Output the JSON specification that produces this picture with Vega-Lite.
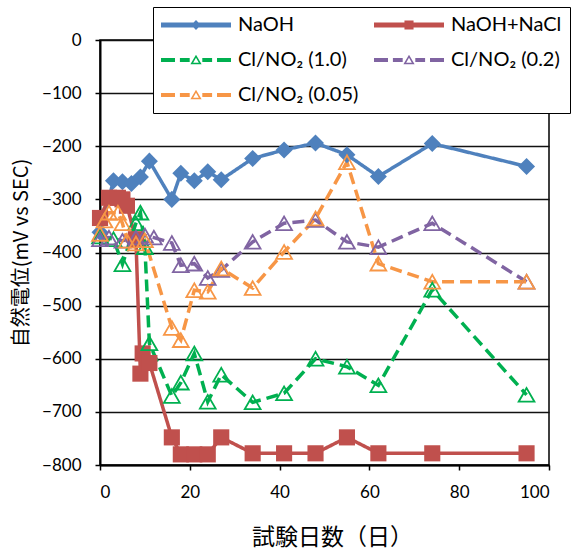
{
  "$schema": "https://vega.github.io/schema/vega-lite/v6.json",
  "width": 449,
  "height": 425,
  "autosize": {"type": "none"},
  "padding": {"left": 100, "top": 40, "right": 30, "bottom": 90},
  "background": "white",
  "config": {
    "view": {"stroke": "#000", "strokeWidth": 1.5},
    "axis": {
      "labelFont": "Lato", "labelFontSize": 17, "labelColor": "#000",
      "domainColor": "#000", "domainWidth": 2,
      "tickColor": "#000", "tickWidth": 1.5, "tickSize": 5,
      "gridColor": "#111", "gridWidth": 1.3,
      "titleFont": "Noto Sans CJK JP", "titleFontSize": 20, "titleFontWeight": "normal", "titleColor": "#000"
    },
    "legend": {
      "symbolSize": 4900, "clipHeight": 20, "rowPadding": 15, "columnPadding": 15,
      "labelOffset": 7, "padding": 8, "strokeColor": "#000", "fillColor": "#fff",
      "symbolOpacity": 1, "symbolStrokeWidth": 0,
      "labelFont": "Lato", "labelFontSize": 20, "labelColor": "#000", "labelLimit": 300
    }
  },
  "data": {"values": [
    {"series": "NaOH", "day": 0, "mV": -362},
    {"series": "NaOH", "day": 3, "mV": -265},
    {"series": "NaOH", "day": 5, "mV": -267},
    {"series": "NaOH", "day": 7, "mV": -270},
    {"series": "NaOH", "day": 9, "mV": -258},
    {"series": "NaOH", "day": 11, "mV": -228},
    {"series": "NaOH", "day": 16, "mV": -300},
    {"series": "NaOH", "day": 18, "mV": -251},
    {"series": "NaOH", "day": 21, "mV": -265},
    {"series": "NaOH", "day": 24, "mV": -248},
    {"series": "NaOH", "day": 27, "mV": -263},
    {"series": "NaOH", "day": 34, "mV": -223},
    {"series": "NaOH", "day": 41, "mV": -207},
    {"series": "NaOH", "day": 48, "mV": -194},
    {"series": "NaOH", "day": 55, "mV": -216},
    {"series": "NaOH", "day": 62, "mV": -257},
    {"series": "NaOH", "day": 74, "mV": -195},
    {"series": "NaOH", "day": 95, "mV": -238},
    {"series": "NaOH+NaCl", "day": 0, "mV": -335},
    {"series": "NaOH+NaCl", "day": 2, "mV": -297},
    {"series": "NaOH+NaCl", "day": 4, "mV": -297},
    {"series": "NaOH+NaCl", "day": 5, "mV": -300},
    {"series": "NaOH+NaCl", "day": 6, "mV": -312},
    {"series": "NaOH+NaCl", "day": 8, "mV": -375},
    {"series": "NaOH+NaCl", "day": 9, "mV": -628},
    {"series": "NaOH+NaCl", "day": 9.5, "mV": -590},
    {"series": "NaOH+NaCl", "day": 11, "mV": -608},
    {"series": "NaOH+NaCl", "day": 16, "mV": -748},
    {"series": "NaOH+NaCl", "day": 18, "mV": -780},
    {"series": "NaOH+NaCl", "day": 21, "mV": -780},
    {"series": "NaOH+NaCl", "day": 24, "mV": -780},
    {"series": "NaOH+NaCl", "day": 27, "mV": -748},
    {"series": "NaOH+NaCl", "day": 34, "mV": -778},
    {"series": "NaOH+NaCl", "day": 41, "mV": -778},
    {"series": "NaOH+NaCl", "day": 48, "mV": -778},
    {"series": "NaOH+NaCl", "day": 55, "mV": -748},
    {"series": "NaOH+NaCl", "day": 62, "mV": -778},
    {"series": "NaOH+NaCl", "day": 74, "mV": -778},
    {"series": "NaOH+NaCl", "day": 95, "mV": -778},
    {"series": "Cl/NO₂ (1.0)", "day": 0, "mV": -370},
    {"series": "Cl/NO₂ (1.0)", "day": 3, "mV": -375},
    {"series": "Cl/NO₂ (1.0)", "day": 5, "mV": -422},
    {"series": "Cl/NO₂ (1.0)", "day": 8, "mV": -345},
    {"series": "Cl/NO₂ (1.0)", "day": 9, "mV": -325},
    {"series": "Cl/NO₂ (1.0)", "day": 10, "mV": -390},
    {"series": "Cl/NO₂ (1.0)", "day": 11, "mV": -571},
    {"series": "Cl/NO₂ (1.0)", "day": 16, "mV": -670},
    {"series": "Cl/NO₂ (1.0)", "day": 18, "mV": -645},
    {"series": "Cl/NO₂ (1.0)", "day": 21, "mV": -590},
    {"series": "Cl/NO₂ (1.0)", "day": 24, "mV": -681},
    {"series": "Cl/NO₂ (1.0)", "day": 27, "mV": -630},
    {"series": "Cl/NO₂ (1.0)", "day": 34, "mV": -682},
    {"series": "Cl/NO₂ (1.0)", "day": 41, "mV": -665},
    {"series": "Cl/NO₂ (1.0)", "day": 48, "mV": -600},
    {"series": "Cl/NO₂ (1.0)", "day": 55, "mV": -615},
    {"series": "Cl/NO₂ (1.0)", "day": 62, "mV": -650},
    {"series": "Cl/NO₂ (1.0)", "day": 74, "mV": -470},
    {"series": "Cl/NO₂ (1.0)", "day": 95, "mV": -668},
    {"series": "Cl/NO₂ (0.2)", "day": 0, "mV": -375},
    {"series": "Cl/NO₂ (0.2)", "day": 2, "mV": -372},
    {"series": "Cl/NO₂ (0.2)", "day": 5, "mV": -378},
    {"series": "Cl/NO₂ (0.2)", "day": 8, "mV": -372},
    {"series": "Cl/NO₂ (0.2)", "day": 10, "mV": -368},
    {"series": "Cl/NO₂ (0.2)", "day": 12, "mV": -372},
    {"series": "Cl/NO₂ (0.2)", "day": 16, "mV": -382},
    {"series": "Cl/NO₂ (0.2)", "day": 18, "mV": -424},
    {"series": "Cl/NO₂ (0.2)", "day": 21, "mV": -421},
    {"series": "Cl/NO₂ (0.2)", "day": 24, "mV": -448},
    {"series": "Cl/NO₂ (0.2)", "day": 27, "mV": -433},
    {"series": "Cl/NO₂ (0.2)", "day": 34, "mV": -380},
    {"series": "Cl/NO₂ (0.2)", "day": 41, "mV": -345},
    {"series": "Cl/NO₂ (0.2)", "day": 48, "mV": -339},
    {"series": "Cl/NO₂ (0.2)", "day": 55, "mV": -380},
    {"series": "Cl/NO₂ (0.2)", "day": 62, "mV": -390},
    {"series": "Cl/NO₂ (0.2)", "day": 74, "mV": -345},
    {"series": "Cl/NO₂ (0.2)", "day": 95, "mV": -455},
    {"series": "Cl/NO₂ (0.05)", "day": 0, "mV": -365},
    {"series": "Cl/NO₂ (0.05)", "day": 1, "mV": -340},
    {"series": "Cl/NO₂ (0.05)", "day": 2, "mV": -325},
    {"series": "Cl/NO₂ (0.05)", "day": 4, "mV": -325},
    {"series": "Cl/NO₂ (0.05)", "day": 5, "mV": -345},
    {"series": "Cl/NO₂ (0.05)", "day": 6, "mV": -378},
    {"series": "Cl/NO₂ (0.05)", "day": 8, "mV": -383},
    {"series": "Cl/NO₂ (0.05)", "day": 10, "mV": -377},
    {"series": "Cl/NO₂ (0.05)", "day": 16, "mV": -542},
    {"series": "Cl/NO₂ (0.05)", "day": 18, "mV": -565},
    {"series": "Cl/NO₂ (0.05)", "day": 21, "mV": -471},
    {"series": "Cl/NO₂ (0.05)", "day": 24, "mV": -474},
    {"series": "Cl/NO₂ (0.05)", "day": 27, "mV": -430},
    {"series": "Cl/NO₂ (0.05)", "day": 34, "mV": -467},
    {"series": "Cl/NO₂ (0.05)", "day": 41, "mV": -399},
    {"series": "Cl/NO₂ (0.05)", "day": 48, "mV": -336},
    {"series": "Cl/NO₂ (0.05)", "day": 55, "mV": -230},
    {"series": "Cl/NO₂ (0.05)", "day": 62, "mV": -421},
    {"series": "Cl/NO₂ (0.05)", "day": 74, "mV": -455},
    {"series": "Cl/NO₂ (0.05)", "day": 95, "mV": -455}
  ]},
  "encoding": {
    "x": {"field": "day", "type": "quantitative",
      "scale": {"domain": [0, 100], "nice": false},
      "axis": {"values": [0, 20, 40, 60, 80, 100], "grid": false, "labelPadding": 14, "title": "試験日数（日）", "titleFontSize": 23, "titlePadding": 26, "titleX": 232}},
    "y": {"field": "mV", "type": "quantitative",
      "scale": {"domain": [-800, 0], "nice": false},
      "axis": {"values": [-800, -700, -600, -500, -400, -300, -200, -100, 0], "grid": true, "labelPadding": 14, "title": "自然電位(mV vs SEC)", "titlePadding": 10}}
  },
  "layer": [
    {
      "mark": {"type": "line"},
      "encoding": {
        "stroke": {"field": "series", "type": "nominal", "legend": null,
          "scale": {"domain": ["Cl/NO₂ (0.05)", "Cl/NO₂ (0.2)", "Cl/NO₂ (1.0)", "NaOH", "NaOH+NaCl"],
                    "range": ["#F79646", "#8064A2", "#00B050", "#4F81BD", "#C0504D"]}},
        "strokeDash": {"field": "series", "type": "nominal", "legend": null,
          "scale": {"domain": ["Cl/NO₂ (0.05)", "Cl/NO₂ (0.2)", "Cl/NO₂ (1.0)", "NaOH", "NaOH+NaCl"],
                    "range": [[12, 6], [12, 6], [12, 6], [1, 0], [1, 0]]}},
        "strokeWidth": {"field": "series", "type": "nominal", "legend": null,
          "scale": {"domain": ["Cl/NO₂ (0.05)", "Cl/NO₂ (0.2)", "Cl/NO₂ (1.0)", "NaOH", "NaOH+NaCl"],
                    "range": [3.5, 3.5, 3.5, 4.5, 4.5]}}
      }
    },
    {
      "transform": [{"filter": {"field": "series", "equal": "NaOH"}}],
      "mark": {"type": "point", "shape": "diamond", "filled": true, "size": 290, "opacity": 1},
      "encoding": {
        "fill": {"field": "series", "type": "nominal", "legend": null,
          "scale": {"domain": ["Cl/NO₂ (0.05)", "Cl/NO₂ (0.2)", "Cl/NO₂ (1.0)", "NaOH", "NaOH+NaCl"],
                    "range": ["#F79646", "#8064A2", "#00B050", "#4F81BD", "#C0504D"]}}
      }
    },
    {
      "transform": [{"filter": {"field": "series", "equal": "NaOH+NaCl"}}],
      "mark": {"type": "point", "shape": "square", "filled": true, "size": 260, "opacity": 1},
      "encoding": {
        "fill": {"field": "series", "type": "nominal", "legend": null}
      }
    },
    {
      "transform": [{"filter": {"field": "series", "oneOf": ["Cl/NO₂ (1.0)", "Cl/NO₂ (0.2)", "Cl/NO₂ (0.05)"]}}],
      "mark": {"type": "point", "shape": "triangle-up", "filled": false, "size": 250, "strokeWidth": 1.8, "opacity": 1},
      "encoding": {
        "stroke": {"field": "series", "type": "nominal", "legend": null}
      }
    },
    {
      "mark": {"type": "point", "filled": true, "opacity": 0},
      "encoding": {
        "color": {"field": "series", "type": "nominal",
          "legend": {"title": null, "orient": "none", "legendX": 53, "legendY": -33, "columns": 2, "direction": "horizontal"},
          "scale": {"domain": ["NaOH", "NaOH+NaCl", "Cl/NO₂ (1.0)", "Cl/NO₂ (0.2)", "Cl/NO₂ (0.05)"],
                    "range": ["#4F81BD", "#C0504D", "#00B050", "#8064A2", "#F79646"]}},
        "shape": {"field": "series", "type": "nominal",
          "legend": {"title": null, "orient": "none", "legendX": 53, "legendY": -33, "columns": 2, "direction": "horizontal"},
          "scale": {"domain": ["NaOH", "NaOH+NaCl", "Cl/NO₂ (1.0)", "Cl/NO₂ (0.2)", "Cl/NO₂ (0.05)"],
                    "range": [
                      "M-1,-0.07H1V0.07H-1Z M0,-0.14L0.14,0L0,0.14L-0.14,0Z",
                      "M-1,-0.07H1V0.07H-1Z M-0.13,-0.13H0.13V0.13H-0.13Z",
                      "M-1,-0.057H-0.6V0.057H-1Z M-0.46,-0.057H-0.18V0.057H-0.46Z M0.18,-0.057H0.46V0.057H0.18Z M0.6,-0.057H1V0.057H0.6Z M0,-0.15L0.16,0.12L-0.16,0.12Z M0,-0.062L-0.081,0.075L0.081,0.075Z",
                      "M-1,-0.057H-0.6V0.057H-1Z M-0.46,-0.057H-0.18V0.057H-0.46Z M0.18,-0.057H0.46V0.057H0.18Z M0.6,-0.057H1V0.057H0.6Z M0,-0.15L0.16,0.12L-0.16,0.12Z M0,-0.062L-0.081,0.075L0.081,0.075Z",
                      "M-1,-0.057H-0.6V0.057H-1Z M-0.46,-0.057H-0.18V0.057H-0.46Z M0.18,-0.057H0.46V0.057H0.18Z M0.6,-0.057H1V0.057H0.6Z M0,-0.15L0.16,0.12L-0.16,0.12Z M0,-0.062L-0.081,0.075L0.081,0.075Z"
                    ]}}
      }
    }
  ]
}
